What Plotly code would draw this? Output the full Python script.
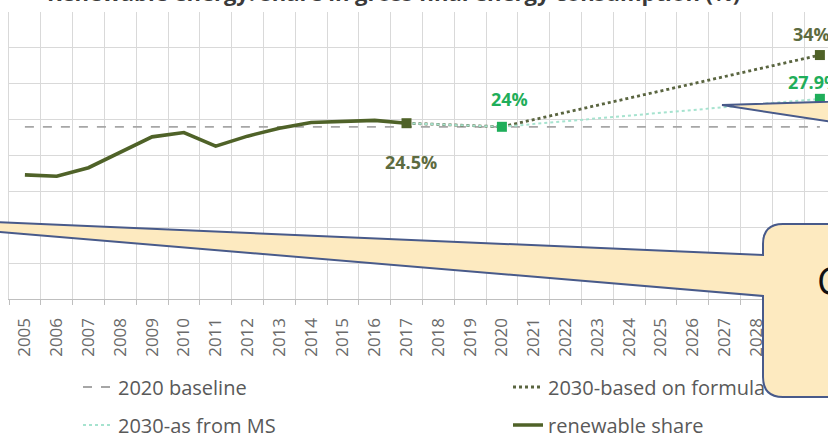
import plotly.graph_objects as go

# ---------------- data ----------------
years = [str(y) for y in range(2005, 2031)]
hist_years = [str(y) for y in range(2005, 2018)]
renewable_share = [17.3, 17.1, 18.3, 20.4, 22.6, 23.2, 21.3, 22.7, 23.8, 24.6, 24.7, 24.9, 24.5]

baseline_years = ["2005", "2030"]
baseline_values = [24.0, 24.0]

formula_years = ["2017", "2020", "2030"]
formula_values = [24.5, 24.0, 34.0]

ms_years = ["2017", "2020", "2030"]
ms_values = [24.5, 24.0, 27.9]

point_years = ["2017", "2020", "2030", "2030"]
point_values = [24.5, 24.0, 34.0, 27.9]
point_labels = ["24.5%", "24%", "34%", "27.9%"]

title_text = "Renewable energy: share in gross final energy consumption (%)"
callout_text = "C"

# ---------------- styling ----------------
OLIVE = "#4f6228"
OLIVE_TXT = "#5d6b40"
GREEN = "#1fae5a"
MINT = "#a6e3cf"
GREY = "#a6a6a6"
BOX_FILL = "#fdeac0"
BOX_LINE = "#485a8a"
FONT = "Open Sans"

W, H = 828, 435
PL, PR, PT, PB = 9, 828, 12, 299


def xp(px):
    return (px - PL) / (PR - PL)


def yp(py):
    return (PB - py) / (PB - PT)


def cx(px):
    return px / W


def cy(py):
    return 1 - py / H


fig = go.Figure()

fig.add_trace(go.Scatter(
    x=baseline_years, y=baseline_values, mode="lines", name="2020 baseline",
    line=dict(color=GREY, width=1.8, dash="dash"), legend="legend"))
fig.add_trace(go.Scatter(
    x=formula_years, y=formula_values, mode="lines", name="2030-based on formula",
    line=dict(color="#5a6540", width=2.8, dash="dot"), legend="legend2"))
fig.add_trace(go.Scatter(
    x=ms_years, y=ms_values, mode="lines", name="2030-as from MS",
    line=dict(color=MINT, width=2, dash="dot"), legend="legend3"))
fig.add_trace(go.Scatter(
    x=hist_years, y=renewable_share, mode="lines", name="renewable share",
    line=dict(color=OLIVE, width=3.6), legend="legend4"))

marker_colors = [OLIVE, GREEN, OLIVE, GREEN]
fig.add_trace(go.Scatter(
    x=point_years, y=point_values, mode="markers", showlegend=False,
    marker=dict(symbol="square", size=10, color=marker_colors)))

label_colors = [OLIVE_TXT, GREEN, OLIVE_TXT, GREEN]
label_shift = [(4, -39), (8, 28), (-8, 21), (-6, 17)]
for xv, yv, t, c, (dx, dy) in zip(point_years, point_values, point_labels, label_colors, label_shift):
    fig.add_annotation(x=years.index(xv), y=yv, text="<b>%s</b>" % t, showarrow=False,
                       xshift=dx, yshift=dy, font=dict(size=18, color=c, family=FONT))

# callout box (drawn over the chart)
r = 20
main_path = (
    "M {} {} L {} {} L {} {} Q {} {} {} {} L {} {} L {} {} L {} {} Q {} {} {} {} L {} {} Z".format(
        xp(-238), yp(212),
        xp(763), yp(255),
        xp(763), yp(224 + r),
        xp(763), yp(224), xp(763 + r), yp(224),
        xp(950), yp(224),
        xp(950), yp(397),
        xp(763 + r), yp(397),
        xp(763), yp(397), xp(763), yp(397 - r),
        xp(763), yp(296),
    ))
tail_path = "M {} {} L {} {} L {} {} Z".format(
    xp(722), yp(105), xp(950), yp(98), xp(950), yp(140))

for p in (tail_path, main_path):
    fig.add_shape(type="path", path=p, xref="paper", yref="paper", layer="above",
                  fillcolor=BOX_FILL, line=dict(color=BOX_LINE, width=2))

fig.add_annotation(xref="paper", yref="paper", x=xp(815), y=yp(280), xanchor="left",
                   yanchor="middle", text=callout_text, showarrow=False,
                   font=dict(size=38, color="#111111", family=FONT))

# cropped title
fig.add_annotation(xref="paper", yref="paper", x=xp(393), y=yp(-8), xanchor="center",
                   yanchor="middle", text="<b>%s</b>" % title_text, showarrow=False,
                   font=dict(size=22, color="#3a3a3a", family=FONT))

leg_common = dict(orientation="h", xanchor="left", yanchor="middle",
                  xref="container", yref="container", bgcolor="rgba(0,0,0,0)",
                  font=dict(size=20, color="#595959", family=FONT))

fig.update_layout(
    width=W, height=H,
    margin=dict(l=PL, r=W - PR, t=PT, b=H - PB, autoexpand=False),
    paper_bgcolor="white", plot_bgcolor="white",
    font=dict(family=FONT, color="#595959"),
    showlegend=True,
    legend=dict(x=cx(78), y=cy(387), **leg_common),
    legend2=dict(x=cx(508), y=cy(387), **leg_common),
    legend3=dict(x=cx(78), y=cy(425), **leg_common),
    legend4=dict(x=cx(508), y=cy(425), **leg_common),
    xaxis=dict(type="category", categoryorder="array", categoryarray=years,
               range=[-0.5, -0.5 + (PR - PL) / 31.8], tickson="boundaries",
               showgrid=True, gridcolor="#d9d9d9", gridwidth=1.3,
               ticks="outside", ticklen=5, tickcolor="#bfbfbf",
               showline=True, linecolor="#bfbfbf", linewidth=1.3,
               tickangle=-90, ticklabelstandoff=11,
               tickfont=dict(size=17, color="#6a6a6a", family=FONT),
               zeroline=False, automargin=False),
    yaxis=dict(range=[0, 40], dtick=5, showgrid=True, gridcolor="#d9d9d9", gridwidth=1.3,
               showticklabels=False, zeroline=False, showline=True, linecolor="#d9d9d9",
               linewidth=1.3, mirror=True, automargin=False),
)

fig.write_html("out.html", config={"displayModeBar": False},
               post_script="document.body.style.margin='0';document.body.style.overflow='hidden';")
